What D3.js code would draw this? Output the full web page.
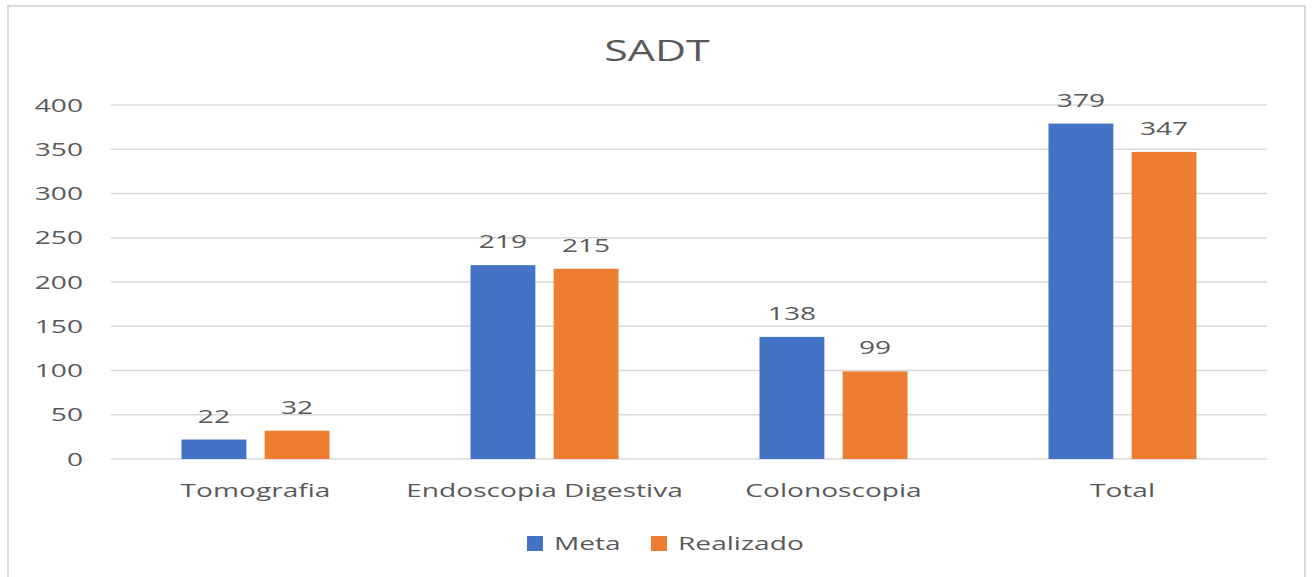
<!DOCTYPE html>
<html>
<head>
<meta charset="utf-8">
<script src="https://cdn.jsdelivr.net/npm/d3@7"></script>
<style>
  body { margin: 0; background: #fff; }
  text { font-family: "Open Sans", "DejaVu Sans", sans-serif; fill: #595959; }
</style>
</head>
<body>
<div id="wrapper"></div>
<script>
const categories = ["Tomografia", "Endoscopia Digestiva", "Colonoscopia", "Total"]
const seriesNames = ["Meta", "Realizado"]
const meta = [22, 219, 138, 379]
const realizado = [32, 215, 99, 347]
const yTicks = [0, 50, 100, 150, 200, 250, 300, 350, 400]
const colors = ["#4472C4", "#ED7D31"]

// the reference text is drawn wide, so stretch it sideways
const stretch = "scale(1.48,1)"

function draw() {
    const width = 1314, height = 577
    const left = 111, right = 1267, top = 105, bottom = 459

    const svg = d3.select("#wrapper").append("svg")
        .attr("width", width)
        .attr("height", height)

    // chart border
    svg.append("rect")
        .attr("x", 8).attr("y", 6)
        .attr("width", 1297).attr("height", 580)
        .attr("fill", "#fff")
        .attr("stroke", "#d9d9d9")
        .attr("stroke-width", 2)

    svg.append("text")
        .attr("transform", "translate(657,61) " + stretch)
        .attr("text-anchor", "middle")
        .style("font-size", "29px")
        .text("SADT")

    const x = d3.scaleBand().domain(categories).range([left, right])
    const y = d3.scaleLinear().domain([0, 400]).range([bottom, top])

    // gridlines
    svg.append("g").selectAll("line")
        .data(yTicks)
        .enter().append("line")
        .attr("x1", left).attr("x2", right)
        .attr("y1", d => y(d)).attr("y2", d => y(d))
        .attr("stroke", "#d9d9d9")
        .attr("stroke-width", 1.5)

    const yAxis = d3.axisLeft(y).tickValues(yTicks).tickSize(0).tickPadding(0)
    const gy = svg.append("g")
        .attr("transform", "translate(83,0)")
        .call(yAxis)
    gy.select(".domain").remove()
    gy.selectAll("text")
        .attr("transform", stretch)
        .style("font-size", "19px")
        .style("font-family", "'Open Sans', sans-serif")
        .attr("fill", "#595959")

    const xAxis = d3.axisBottom(x).tickSize(0).tickPadding(0)
    const gx = svg.append("g")
        .attr("transform", "translate(0," + (bottom + 25) + ")")
        .call(xAxis)
    gx.select(".domain").remove()
    gx.selectAll("text")
        .attr("transform", stretch)
        .style("font-size", "19px")
        .style("font-family", "'Open Sans', sans-serif")
        .attr("fill", "#595959")

    const inner = d3.scaleBand().domain(seriesNames).range([0, 148]).paddingInner(0.22)
    const data = categories.map((c, i) => ({ cat: c, values: [meta[i], realizado[i]] }))

    const groups = svg.append("g").selectAll("g")
        .data(data)
        .enter().append("g")
        .attr("transform", d => "translate(" + (x(d.cat) + x.bandwidth() / 2 - 74) + ",0)")

    groups.selectAll("rect")
        .data(d => d.values.map((v, j) => ({ name: seriesNames[j], v: v, j: j })))
        .enter().append("rect")
        .attr("x", d => inner(d.name))
        .attr("y", d => y(d.v))
        .attr("width", inner.bandwidth())
        .attr("height", d => bottom - y(d.v))
        .attr("fill", d => colors[d.j])

    groups.selectAll("text")
        .data(d => d.values.map((v, j) => ({ name: seriesNames[j], v: v })))
        .enter().append("text")
        .attr("transform", d => "translate(" + (inner(d.name) + inner.bandwidth() / 2) + "," + (y(d.v) - 17) + ") " + stretch)
        .attr("text-anchor", "middle")
        .style("font-size", "19px")
        .text(d => d.v)

    // legend
    const legend = svg.append("g")
    const lx = [527, 651]
    seriesNames.forEach((n, i) => {
        legend.append("rect")
            .attr("x", lx[i]).attr("y", 536)
            .attr("width", 16).attr("height", 15)
            .attr("fill", colors[i])
        legend.append("text")
            .attr("transform", "translate(" + (lx[i] + 27) + ",550) " + stretch)
            .style("font-size", "19px")
            .text(n)
    })
}
draw()
</script>
</body>
</html>
